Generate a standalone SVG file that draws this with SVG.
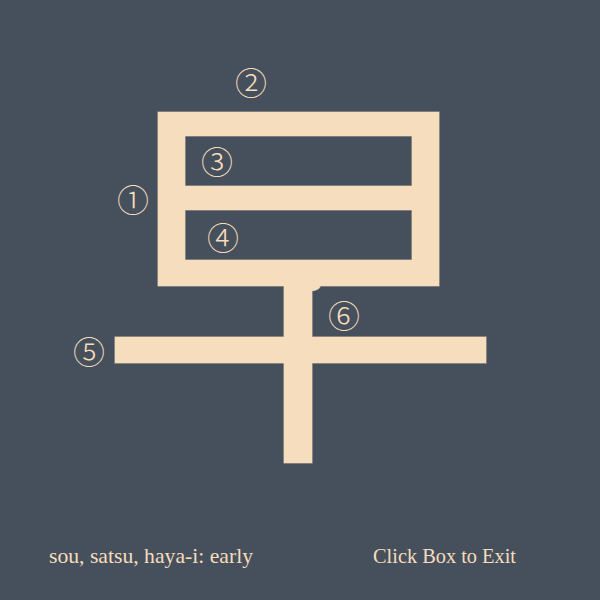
<svg xmlns="http://www.w3.org/2000/svg" width="600" height="600" viewBox="0 0 600 600">
<style>
.edge{fill:none;stroke:#b9aa98;stroke-width:1.2}
.fill{fill:#f5ddbd}
.num{font-family:"Noto Sans CJK JP",serif;font-size:32px;font-weight:300;fill:#f5ddbd;text-anchor:middle;dominant-baseline:central}
.lbl{font-family:"Liberation Serif",serif;font-size:21px;fill:#f5ddbd}
</style>
<defs>
<path id="boxShape" fill-rule="evenodd" d="M158,112H439V286H158Z M185,136V186H412V136Z M185,210V260H412V210Z"/>
<path id="vertShape" d="M284,284H312Q320,284 320,287Q318,290 312,291V463H284Z"/>
<rect id="horizShape" x="115" y="337" width="371" height="26"/>
</defs>
<rect width="600" height="600" fill="#46505c"/>
<g id="kanji">
<g class="edge">
<use href="#boxShape"/>
<use href="#vertShape"/>
<use href="#horizShape"/>
</g>
<g id="stroke-box" class="fill"><use href="#boxShape"/></g>
<g id="stroke-vertical" class="fill"><use href="#vertShape"/></g>
<g id="stroke-horizontal" class="fill"><use href="#horizShape"/></g>
</g>
<g id="numbers">
<text id="n1" class="num" x="133" y="198">①</text>
<text id="n2" class="num" x="251" y="81">②</text>
<text id="n3" class="num" x="217" y="160">③</text>
<text id="n4" class="num" x="223" y="236">④</text>
<text id="n5" class="num" x="89" y="350">⑤</text>
<text id="n6" class="num" x="344" y="314">⑥</text>
</g>
<text class="lbl" x="49" y="563" textLength="204" lengthAdjust="spacingAndGlyphs">sou, satsu, haya-i: early</text>
<text class="lbl" x="373" y="563" textLength="143" lengthAdjust="spacingAndGlyphs">Click Box to Exit</text>
</svg>
